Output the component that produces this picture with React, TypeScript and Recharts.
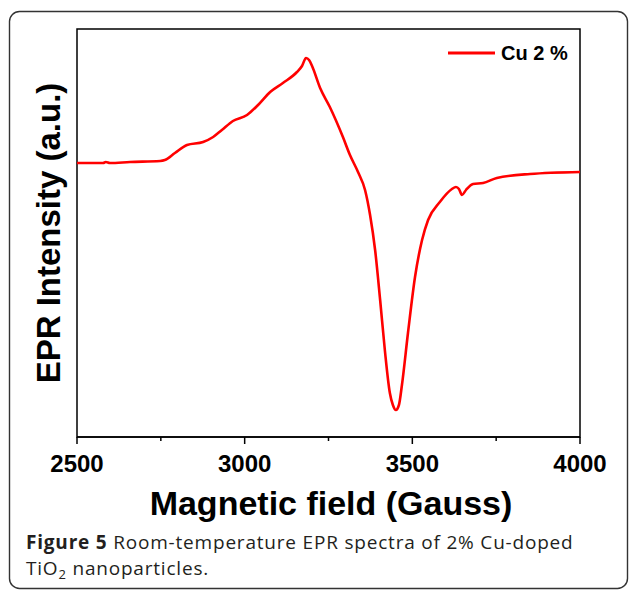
import React from 'react';
import { LineChart, Line, XAxis, YAxis, ReferenceArea } from 'recharts';

// Magnetic field (Gauss)
const fieldGauss = [
  2500, 2539, 2578, 2586, 2598, 2658, 2748, 2762, 2792, 2828, 2876, 2906, 2932, 2965,
  3007, 3040, 3076, 3114, 3156, 3171, 3183, 3192, 3201, 3225, 3254, 3293, 3314, 3338,
  3359, 3374, 3389, 3404, 3418, 3433, 3442, 3451, 3460, 3469, 3487, 3508, 3529, 3547,
  3582, 3618, 3630, 3639, 3648, 3660, 3681, 3711, 3752, 3851, 4000,
];
// EPR intensity (a.u.), Cu 2 %
const cu2Intensity = [
  0, 0, 0, 1, 0, 1, 2, 3, 10, 18, 21, 26, 33, 42,
  48, 58, 71, 80, 91, 97, 105, 103, 97, 75, 56, 26, 8, -9,
  -27, -52, -87, -137, -187, -230, -242, -247, -242, -222, -170, -114, -77, -57,
  -39, -26, -24, -26, -32, -27, -21, -20, -15, -11, -9,
];
const xTicks = [2500, 2750, 3000, 3250, 3500, 3750, 4000];
const xDomain = [2500, 4000];
const yDomain = [-274, 134];
const seriesName = 'Cu 2 %';

const data = fieldGauss.map((g, i) => ({ field: g, cu2: cu2Intensity[i] }));

const FONT = '"Liberation Sans", Arial, Helvetica, sans-serif';
const CAPTION_FONT = '"Open Sans", "Noto Sans", sans-serif';

const XTick = (props: any) => {
  const { x, y, payload } = props;
  const v = payload.value;
  const major = v % 500 === 0;
  return (
    <g>
      <line x1={x} x2={x} y1={y} y2={y + (major ? 7 : 4)} stroke="#000" strokeWidth={1.5} />
      {major && (
        <text x={x} y={y + 35} textAnchor="middle" fontFamily={FONT} fontWeight="bold" fontSize={24} fill="#000">
          {v}
        </text>
      )}
    </g>
  );
};

export default function App() {
  return (
    <div style={{ position: 'absolute', left: 0, top: 0, width: 629, height: 590, background: '#fff' }}>
      <LineChart width={629} height={590} data={data} margin={{ top: 29, right: 49, bottom: 113, left: 77 }}>
        <XAxis
          dataKey="field"
          type="number"
          domain={xDomain}
          ticks={xTicks}
          interval={0}
          height={40}
          tickSize={0}
          tickMargin={0}
          tickLine={false}
          axisLine={{ stroke: '#000', strokeWidth: 1.5 }}
          tick={<XTick />}
          allowDataOverflow
        />
        <YAxis
          type="number"
          domain={yDomain}
          width={0}
          tick={false}
          tickLine={false}
          axisLine={{ stroke: '#000', strokeWidth: 1.5 }}
          allowDataOverflow
        />
        <ReferenceArea
          x1={xDomain[0]}
          x2={xDomain[1]}
          y1={yDomain[0]}
          y2={yDomain[1]}
          fill="none"
          fillOpacity={0}
          stroke="#000"
          strokeWidth={1.5}
          ifOverflow="visible"
        />
        <Line
          type="monotone"
          dataKey="cu2"
          name={seriesName}
          stroke="#ff0000"
          strokeWidth={2.6}
          dot={false}
          isAnimationActive={false}
        />
      </LineChart>
      <svg
        width={629}
        height={590}
        style={{ position: 'absolute', left: 0, top: 0, pointerEvents: 'none' }}
      >
        <rect x={9.5} y={11.5} width={618} height={577} rx={10} ry={10} fill="none" stroke="#333" strokeWidth={1.4} />
        {/* legend */}
        <line x1={448} x2={495} y1={53} y2={53} stroke="#ff0000" strokeWidth={3} />
        <text x={501} y={60} fontFamily={FONT} fontWeight="bold" fontSize={20} fill="#000">
          {seriesName}
        </text>
        <text
          transform="translate(60, 233) rotate(-90)"
          textAnchor="middle"
          fontFamily={FONT}
          fontWeight="bold"
          fontSize={33}
          fill="#000"
        >
          EPR Intensity (a.u.)
        </text>
        <text x={331} y={515} textAnchor="middle" fontFamily={FONT} fontWeight="bold" fontSize={34} fill="#000">
          Magnetic field (Gauss)
        </text>
        <text x={26} y={549} fontFamily={CAPTION_FONT} fontSize={19} letterSpacing={0.8} fill="#231f20">
          <tspan fontWeight="bold">Figure 5</tspan>
          <tspan> Room-temperature EPR spectra of 2% Cu-doped</tspan>
        </text>
        <text x={26} y={575} fontFamily={CAPTION_FONT} fontSize={19} letterSpacing={0.8} fill="#231f20">
          <tspan>TiO</tspan>
          <tspan fontSize={13} dy={4}>2</tspan>
          <tspan dy={-4}> nanoparticles.</tspan>
        </text>
      </svg>
    </div>
  );
}
